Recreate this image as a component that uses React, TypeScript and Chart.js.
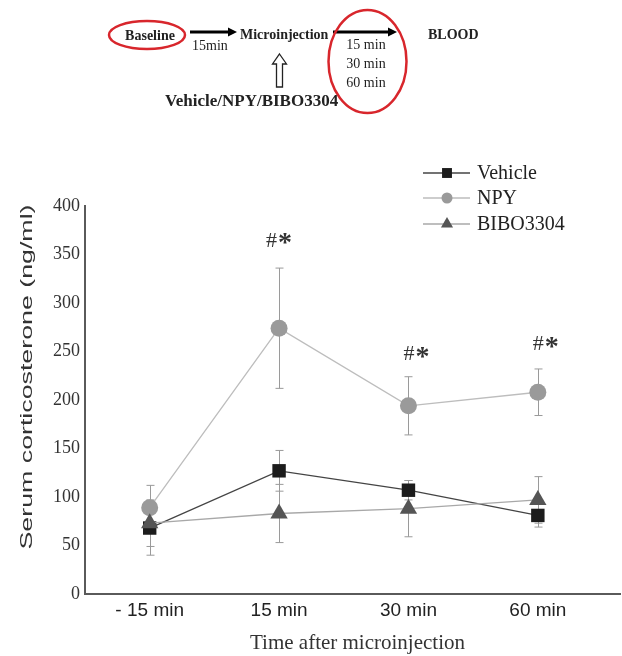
import React, { useEffect, useRef } from 'react';
import { Chart, registerables } from 'chart.js';

Chart.register(...registerables);

const categories = ['- 15 min', '15 min', '30 min', '60 min'];
const vehicleValues = [68, 127, 107, 81];
const vehicleErrors = [28, 21, 10, 12];
const npyValues = [89, 274, 194, 208];
const npyErrors = [23, 62, 30, 24];
const biboValues = [73, 83, 88, 97];
const biboErrors = [24, 30, 29, 24];
const yTickValues = [0, 50, 100, 150, 200, 250, 300, 350, 400];
const sigText = ['', '#*', '#*', '#*'];
const sigLevels = [null, 364, 247, 257];
const seriesNames = ['Vehicle', 'NPY', 'BIBO3304'];

const SERIF = '"Liberation Serif", "Times New Roman", serif';
const SANS = '"Liberation Sans", Arial, sans-serif';

function drawMarker(ctx: CanvasRenderingContext2D, style: string, x: number, y: number, r: number, color: string) {
  ctx.save();
  ctx.fillStyle = color;
  ctx.beginPath();
  if (style === 'rect') {
    const s = r * Math.SQRT1_2;
    ctx.rect(x - s, y - s, 2 * s, 2 * s);
  } else if (style === 'circle') {
    ctx.arc(x, y, r, 0, Math.PI * 2);
  } else {
    ctx.moveTo(x, y - r);
    ctx.lineTo(x + r * Math.sin((2 * Math.PI) / 3), y - r * Math.cos((2 * Math.PI) / 3));
    ctx.lineTo(x + r * Math.sin((4 * Math.PI) / 3), y - r * Math.cos((4 * Math.PI) / 3));
    ctx.closePath();
  }
  ctx.fill();
  ctx.restore();
}

const errorSets = [vehicleErrors, npyErrors, biboErrors];
const valueSets = [vehicleValues, npyValues, biboValues];
const lineColors = ['#444444', '#bdbdbd', '#a8a8a8'];
const markerColors = ['#1c1c1c', '#9a9a9a', '#555555'];
const markerStyles = ['rect', 'circle', 'triangle'];

const customPlugin = {
  id: 'customDraw',
  beforeDatasetsDraw(chart: any) {
    const ctx = chart.ctx as CanvasRenderingContext2D;
    const xs = chart.scales.x;
    const ys = chart.scales.y;
    ctx.save();
    ctx.strokeStyle = '#9a9a9a';
    ctx.lineWidth = 1;
    valueSets.forEach((vals, d) => {
      vals.forEach((v, i) => {
        const e = errorSets[d][i];
        const x = Math.round(xs.getPixelForValue(i)) + 0.5;
        const yt = ys.getPixelForValue(v + e);
        const yb = ys.getPixelForValue(v - e);
        ctx.beginPath();
        ctx.moveTo(x, yt);
        ctx.lineTo(x, yb);
        ctx.moveTo(x - 4, yt);
        ctx.lineTo(x + 4, yt);
        ctx.moveTo(x - 4, yb);
        ctx.lineTo(x + 4, yb);
        ctx.stroke();
      });
    });
    ctx.restore();
  },
  afterDatasetsDraw(chart: any) {
    const ctx = chart.ctx as CanvasRenderingContext2D;
    const xs = chart.scales.x;
    const ys = chart.scales.y;
    ctx.save();
    ctx.fillStyle = '#333333';
    ctx.textBaseline = 'middle';
    sigText.forEach((t, i) => {
      const lvl = sigLevels[i];
      if (!t || lvl == null) return;
      const cx = xs.getPixelForValue(i) + (i === 1 ? 0 : 8);
      const cy = ys.getPixelForValue(lvl);
      ctx.font = `22px ${SERIF}`;
      const hw = ctx.measureText('#').width;
      ctx.font = `bold 28px ${SERIF}`;
      const sw = ctx.measureText('*').width;
      const start = cx - (hw + sw + 1) / 2;
      ctx.font = `22px ${SERIF}`;
      ctx.textAlign = 'left';
      ctx.fillText('#', start, cy);
      ctx.font = `bold 28px ${SERIF}`;
      ctx.fillText('*', start + hw + 1, cy + 3);
    });
    ctx.restore();
  },
  afterDraw(chart: any) {
    const ctx = chart.ctx as CanvasRenderingContext2D;
    const area = chart.chartArea;
    ctx.save();
    // y title (stretched along its length as in the reference)
    ctx.fillStyle = '#333333';
    ctx.font = `17px ${SANS}`;
    ctx.textAlign = 'center';
    ctx.textBaseline = 'middle';
    const yTitle = 'Serum corticosterone (ng/ml)';
    const w = ctx.measureText(yTitle).width;
    ctx.translate(27, 377);
    ctx.rotate(-Math.PI / 2);
    ctx.scale(345 / w, 1);
    ctx.fillText(yTitle, 0, 0);
    ctx.restore();

    ctx.save();
    ctx.fillStyle = '#333333';
    ctx.font = `21px ${SERIF}`;
    ctx.textAlign = 'center';
    ctx.textBaseline = 'middle';
    ctx.fillText('Time after microinjection', (area.left + area.right) / 2 + 5, 643);
    ctx.restore();

    // legend
    ctx.save();
    const rows = [173, 198, 224];
    const legendR = [7, 5.5, 7];
    seriesNames.forEach((name, d) => {
      const y = rows[d];
      ctx.strokeStyle = lineColors[d];
      ctx.lineWidth = 1.3;
      ctx.beginPath();
      ctx.moveTo(423, y);
      ctx.lineTo(470, y);
      ctx.stroke();
      drawMarker(ctx, markerStyles[d], 447, y, legendR[d], markerColors[d]);
      ctx.fillStyle = '#222222';
      ctx.font = `20px ${SERIF}`;
      ctx.textAlign = 'left';
      ctx.textBaseline = 'middle';
      ctx.fillText(name, 477, y + 1);
    });
    ctx.restore();
  },
};

function Diagram() {
  const red = '#d8262c';
  return (
    <svg
      width={622}
      height={140}
      style={{ position: 'absolute', left: 0, top: 0, pointerEvents: 'none' }}
    >
      <ellipse cx={147} cy={35} rx={38} ry={14} fill="none" stroke={red} strokeWidth={2.5} />
      <text x={150} y={40} textAnchor="middle" fontFamily={SERIF} fontWeight="bold" fontSize={14} fill="#222">Baseline</text>
      <line x1={190} y1={32} x2={229} y2={32} stroke="#000" strokeWidth={3} />
      <path d="M228,27.5 L237,32 L228,36.5 z" fill="#000" />
      <text x={192} y={50} fontFamily={SERIF} fontSize={14} fill="#222">15min</text>
      <text x={240} y={39} fontFamily={SERIF} fontWeight="bold" fontSize={14} fill="#222">Microinjection</text>
      <line x1={333} y1={32} x2={389} y2={32} stroke="#000" strokeWidth={3} />
      <path d="M388,27.5 L397,32 L388,36.5 z" fill="#000" />
      <ellipse cx={367.5} cy={61.5} rx={39} ry={51.5} fill="none" stroke={red} strokeWidth={2.5} />
      <text x={366} y={49} textAnchor="middle" fontFamily={SERIF} fontSize={14} fill="#222">15 min</text>
      <text x={366} y={68} textAnchor="middle" fontFamily={SERIF} fontSize={14} fill="#222">30 min</text>
      <text x={366} y={87} textAnchor="middle" fontFamily={SERIF} fontSize={14} fill="#222">60 min</text>
      <text x={428} y={39} fontFamily={SERIF} fontWeight="bold" fontSize={14} fill="#222">BLOOD</text>
      <polygon
        points="279.5,54 286.5,64 282.5,64 282.5,87 276.5,87 276.5,64 272.5,64"
        fill="#fff"
        stroke="#222"
        strokeWidth={1.3}
      />
      <text x={165} y={106} fontFamily={SERIF} fontWeight="bold" fontSize={17} fill="#222">Vehicle/NPY/BIBO3304</text>
    </svg>
  );
}

export default function App() {
  const canvasRef = useRef<HTMLCanvasElement | null>(null);

  useEffect(() => {
    const canvas = canvasRef.current;
    if (!canvas) return;
    const mk = (vals: number[]) => vals.map((v, i) => ({ x: i, y: v }));
    const chart = new Chart(canvas, {
      type: 'line',
      data: {
        datasets: [
          {
            label: seriesNames[0],
            data: mk(vehicleValues),
            borderColor: lineColors[0],
            borderWidth: 1.3,
            pointStyle: 'rect',
            pointRadius: 9.5,
            pointBackgroundColor: markerColors[0],
            pointBorderColor: markerColors[0],
            pointBorderWidth: 0,
            tension: 0,
            order: 1,
          },
          {
            label: seriesNames[1],
            data: mk(npyValues),
            borderColor: lineColors[1],
            borderWidth: 1.3,
            pointStyle: 'circle',
            pointRadius: 8.5,
            pointBackgroundColor: markerColors[1],
            pointBorderColor: markerColors[1],
            pointBorderWidth: 0,
            tension: 0,
            order: 2,
          },
          {
            label: seriesNames[2],
            data: mk(biboValues),
            borderColor: lineColors[2],
            borderWidth: 1.3,
            pointStyle: 'triangle',
            pointRadius: 10,
            pointBackgroundColor: markerColors[2],
            pointBorderColor: markerColors[2],
            pointBorderWidth: 0,
            tension: 0,
            order: 0,
          },
        ],
      },
      options: {
        animation: false,
        responsive: false,
        maintainAspectRatio: false,
        layout: { autoPadding: false, padding: { top: 206, right: 2, bottom: 0, left: 0 } },
        plugins: {
          legend: { display: false },
          title: { display: false },
          tooltip: { enabled: false },
        },
        scales: {
          x: {
            type: 'linear',
            min: -0.5,
            max: 3.635,
            grid: { display: false, drawTicks: false },
            border: { display: true, color: '#5a5a5a', width: 2 },
            afterBuildTicks: (scale: any) => {
              scale.ticks = categories.map((_, i) => ({ value: i }));
            },
            afterFit: (scale: any) => {
              scale.height = 62;
            },
            ticks: {
              autoSkip: false,
              maxRotation: 0,
              padding: 5,
              color: '#222222',
              font: { family: SANS, size: 19 },
              callback: (v: any) => categories[v as number] ?? '',
            },
          },
          y: {
            type: 'linear',
            min: 0,
            max: 400,
            grid: { display: false, drawTicks: false },
            border: { display: true, color: '#5a5a5a', width: 2 },
            afterBuildTicks: (scale: any) => {
              scale.ticks = yTickValues.map((v) => ({ value: v }));
            },
            afterFit: (scale: any) => {
              scale.width = 85;
            },
            ticks: {
              padding: 5,
              color: '#333333',
              font: { family: SERIF, size: 18 },
            },
          },
        },
      },
      plugins: [customPlugin],
    });
    return () => chart.destroy();
  }, []);

  return (
    <div style={{ position: 'fixed', left: 0, top: 0, width: 622, height: 656, background: '#fff' }}>
      <canvas ref={canvasRef} width={622} height={656} style={{ position: 'absolute', left: 0, top: 0 }} />
      <Diagram />
    </div>
  );
}
